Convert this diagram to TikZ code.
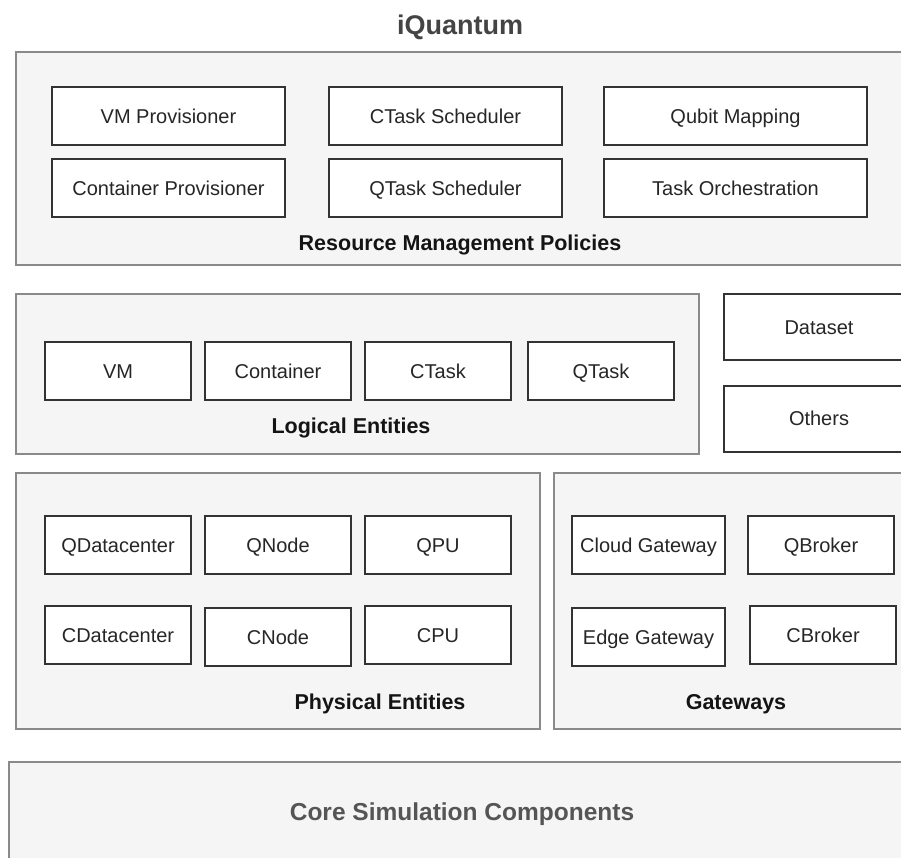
\documentclass[tikz,border=0pt]{standalone}
\usepackage{fontspec}
\setmainfont{Liberation Sans}
\definecolor{panelfill}{HTML}{F5F5F5}
\definecolor{panelline}{HTML}{8A8A8A}
\definecolor{boxline}{HTML}{333333}
\definecolor{titlegray}{HTML}{444444}
\definecolor{coregray}{HTML}{555555}
\tikzset{
  panel/.style={draw=panelline, fill=panelfill, line width=1.4pt, anchor=north west, inner sep=0pt, outer sep=0pt},
  itembox/.style={draw=boxline, fill=white, line width=1.4pt, anchor=north west, inner sep=0pt, outer sep=0pt, minimum height=58pt},
  itemtext/.style={font=\fontsize{20}{24}\selectfont, text=black!85, text height=14.3pt, text depth=0pt, inner sep=0pt},
  paneltitle/.style={font=\fontsize{21.5}{25}\selectfont\bfseries, text=black!92, text height=15.4pt, text depth=0pt, inner sep=0pt},
}
\begin{document}
\begin{tikzpicture}[x=1pt,y=-1pt]
\useasboundingbox (0,0) rectangle (901,857);
\clip (0,0) rectangle (901,857);
\fill[white] (0,0) rectangle (901,857);

% title
\node[font=\fontsize{27}{30}\selectfont\bfseries, text=titlegray, text height=19.4pt, text depth=0pt, inner sep=0pt] (title) at (460,25) {iQuantum};

% Resource Management Policies
\node[panel, minimum width=910pt, minimum height=213pt] (rmp) at (16,52) {};
\node[itembox, minimum width=233pt] (vmp) at (52,87) {};
\node[itemtext] at (vmp.center) {VM Provisioner};
\node[itembox, minimum width=233pt] (cp) at (52,159) {};
\node[itemtext] at (cp.center) {Container Provisioner};
\node[itembox, minimum width=233pt] (cts) at (329,87) {};
\node[itemtext] at (cts.center) {CTask Scheduler};
\node[itembox, minimum width=233pt] (qts) at (329,159) {};
\node[itemtext] at (qts.center) {QTask Scheduler};
\node[itembox, minimum width=263pt] (qm) at (604,87) {};
\node[itemtext] at (qm.center) {Qubit Mapping};
\node[itembox, minimum width=263pt] (to) at (604,159) {};
\node[itemtext] at (to.center) {Task Orchestration};
\node[paneltitle] (rmplabel) at (460,243) {Resource Management Policies};

% Logical Entities
\node[panel, minimum width=683pt, minimum height=160pt] (logic) at (16,294) {};
\node[itembox, minimum width=146pt] (vm) at (45,342) {};
\node[itemtext] at (vm.center) {VM};
\node[itembox, minimum width=146pt] (cont) at (205,342) {};
\node[itemtext] at (cont.center) {Container};
\node[itembox, minimum width=146pt] (ctask) at (365,342) {};
\node[itemtext] at (ctask.center) {CTask};
\node[itembox, minimum width=146pt] (qtask) at (528,342) {};
\node[itemtext] at (qtask.center) {QTask};
\node[paneltitle] (logiclabel) at (351,426) {Logical Entities};

% Dataset / Others
\node[itembox, minimum width=190pt, minimum height=66pt] (dataset) at (724,294) {};
\node[itemtext] at (819,327) {Dataset};
\node[itembox, minimum width=190pt, minimum height=66pt] (others) at (724,386) {};
\node[itemtext] at (819,418) {Others};

% Physical Entities
\node[panel, minimum width=524pt, minimum height=256pt] (phys) at (16,473) {};
\node[itembox, minimum width=146pt] (qdc) at (45,516) {};
\node[itemtext] at (qdc.center) {QDatacenter};
\node[itembox, minimum width=146pt] (qnode) at (205,516) {};
\node[itemtext] at (qnode.center) {QNode};
\node[itembox, minimum width=146pt] (qpu) at (365,516) {};
\node[itemtext] at (qpu.center) {QPU};
\node[itembox, minimum width=146pt] (cdc) at (45,606) {};
\node[itemtext] at (cdc.center) {CDatacenter};
\node[itembox, minimum width=146pt] (cnode) at (205,608) {};
\node[itemtext] at (cnode.center) {CNode};
\node[itembox, minimum width=146pt] (cpu) at (365,606) {};
\node[itemtext] at (cpu.center) {CPU};
\node[paneltitle] (physlabel) at (380,702) {Physical Entities};

% Gateways
\node[panel, minimum width=370pt, minimum height=256pt] (gw) at (554,473) {};
\node[itembox, minimum width=153pt] (cgw) at (572,516) {};
\node[itemtext] at (cgw.center) {Cloud Gateway};
\node[itembox, minimum width=146pt] (qb) at (748,516) {};
\node[itemtext] at (qb.center) {QBroker};
\node[itembox, minimum width=153pt] (egw) at (572,608) {};
\node[itemtext] at (egw.center) {Edge Gateway};
\node[itembox, minimum width=146pt] (cb) at (750,606) {};
\node[itemtext] at (cb.center) {CBroker};
\node[paneltitle] (gwlabel) at (736,702) {Gateways};

% Core Simulation Components
\node[panel, minimum width=920pt, minimum height=130pt] (core) at (9,762) {};
\node[font=\fontsize{24.5}{28}\selectfont\bfseries, text=coregray, text height=17.6pt, text depth=0pt, inner sep=0pt] (corelabel) at (462,812) {Core Simulation Components};
\end{tikzpicture}
\end{document}
